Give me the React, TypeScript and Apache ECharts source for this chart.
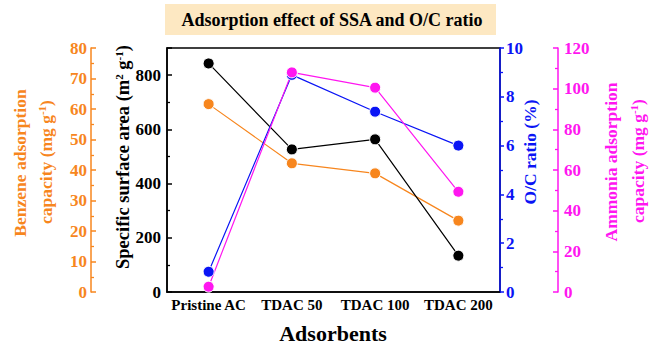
import React, { useEffect, useRef } from "react";
import * as echarts from "echarts";

const categories = ["Pristine AC", "TDAC 50", "TDAC 100", "TDAC 200"];
const ssa = [843, 526, 563, 134];
const benzene = [61.6, 42.2, 38.9, 23.4];
const ocRatio = [0.83, 8.9, 7.39, 6.0];
const ammonia = [2.6, 108, 100.5, 49.3];

const FONT = "'Liberation Serif', 'Times New Roman', serif";
const ORANGE = "#f7861e";
const BLUE = "#0a14f5";
const PINK = "#ff16f0";
const BLACK = "#000000";

const sup = (color: string) => ({
  fontFamily: FONT,
  fontWeight: "bold",
  fontSize: 11,
  fill: color,
  verticalAlign: "top",
  lineHeight: 20,
});
const base = (color: string, size = 17.5) => ({
  fontFamily: FONT,
  fontWeight: "bold",
  fontSize: size,
  fill: color,
  lineHeight: 20,
});

const vTitle = (x: number, y: number, text: string, color: string, size = 17.5) => ({
  type: "text",
  x,
  y,
  rotation: Math.PI / 2,
  style: {
    text,
    ...base(color, size),
    align: "center",
    verticalAlign: "middle",
    rich: { b: base(color, size), s: sup(color) },
  },
  z: 10,
});

export default function App() {
  const ref = useRef<HTMLDivElement>(null);
  useEffect(() => {
    if (!ref.current) return;
    const chart = echarts.init(ref.current, null, { renderer: "svg" });
    const axis = (color: string, inside: boolean, margin: number, minorLen: number) => ({
      type: "value" as const,
      splitLine: { show: false },
      axisLine: { show: true, lineStyle: { color, width: 1.5 } },
      axisTick: { show: true, inside, length: 5, lineStyle: { color, width: 1.5 } },
      minorTick: { show: true, splitNumber: 2, length: minorLen, lineStyle: { color, width: 1.3 } },
      minorSplitLine: { show: false },
      axisLabel: { color, fontFamily: FONT, fontWeight: "bold" as const, fontSize: 17, margin },
    });
    const line = (name: string, data: number[], color: string, yAxisIndex: number) => ({
      name,
      type: "line" as const,
      data,
      yAxisIndex,
      symbol: "circle",
      symbolSize: 11,
      lineStyle: { color, width: 1.2 },
      itemStyle: { color, borderColor: "#ffffff", borderWidth: 1 },
      z: 3,
    });
    chart.setOption({
      animation: false,
      graphic: [
        {
          type: "rect",
          shape: { x: 165, y: 4, width: 331, height: 31 },
          style: { fill: "#fde8c2" },
          z: 0,
        },
        {
          type: "text",
          x: 332,
          y: 20,
          style: {
            text: "Adsorption effect of SSA and O/C ratio",
            fontFamily: FONT,
            fontWeight: "bold",
            fontSize: 18,
            fill: "#000",
            align: "center",
            verticalAlign: "middle",
          },
          z: 1,
        },
        vTitle(20, 163, "{b|Benzene adsorption}", ORANGE),
        vTitle(46, 162, "{b|capacity (mg g}{s|-1}{b|)}", ORANGE),
        vTitle(123, 157, "{b|Specific surface area (m}{s|2}{b| g}{s|-1}{b|)}", BLACK, 18.5),
        vTitle(530, 152, "{b|O/C ratio (%)}", BLUE),
        vTitle(611, 162, "{b|Ammonia adsorption}", PINK),
        vTitle(638, 161, "{b|capacity (mg g}{s|-1}{b|)}", PINK),
        {
          type: "text",
          x: 333,
          y: 333,
          style: {
            text: "Adsorbents",
            fontFamily: FONT,
            fontWeight: "bold",
            fontSize: 22,
            fill: "#000",
            align: "center",
            verticalAlign: "middle",
          },
        },
      ],
      grid: {
        left: 167,
        right: 150,
        top: 48,
        bottom: 54,
        show: true,
        borderColor: "#000",
        borderWidth: 1.5,
        backgroundColor: "transparent",
      },
      xAxis: {
        type: "category",
        data: categories,
        boundaryGap: true,
        axisLine: { lineStyle: { color: "#000", width: 1.5 } },
        axisTick: { show: false },
        axisLabel: { color: "#000", fontFamily: FONT, fontWeight: "bold", fontSize: 15, margin: 5, interval: 0 },
      },
      yAxis: [
        {
          ...axis(BLACK, true, 6, 3),
          position: "left",
          min: 0,
          max: 900,
          interval: 200,
          axisLabel: {
            color: BLACK,
            fontFamily: FONT,
            fontWeight: "bold",
            fontSize: 17,
            margin: 6,
            formatter: (v: number) => (v === 900 ? "" : String(v)),
          },
        },
        {
          ...axis(ORANGE, true, 4, 3),
          position: "left",
          offset: 76,
          min: 0,
          max: 80,
          interval: 10,
        },
        {
          ...axis(BLUE, false, 6, 3),
          position: "right",
          offset: 0,
          min: 0,
          max: 10,
          interval: 2,
          axisTick: { show: true, inside: false, length: 4, lineStyle: { color: BLUE, width: 1.5 } },
        },
        {
          ...axis(PINK, true, 6, 3),
          position: "right",
          offset: 58,
          min: 0,
          max: 120,
          interval: 20,
        },
      ],
      series: [
        line("Benzene", benzene, ORANGE, 1),
        line("SSA", ssa, BLACK, 0),
        line("O/C", ocRatio, BLUE, 2),
        line("Ammonia", ammonia, PINK, 3),
      ],
    });
    return () => chart.dispose();
  }, []);
  return <div ref={ref} style={{ position: "absolute", left: 0, top: 0, width: 650, height: 346 }} />;
}
